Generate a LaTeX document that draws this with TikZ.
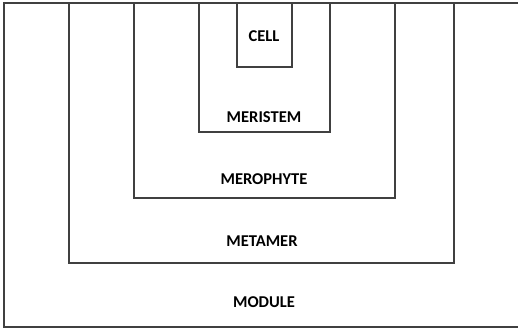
\documentclass[tikz,border=0pt]{standalone}
\usepackage{fontspec}
\setmainfont{Carlito}
\usetikzlibrary{positioning}

\tikzset{
  frame/.style={draw=black!75, line width=0.9pt},
  lbl/.style={font=\bfseries\fontsize{9.4}{11}\selectfont, text=black}
}

\begin{document}
\begin{tikzpicture}[x=0.02cm, y=-0.02cm]
                \useasboundingbox (0,0) rectangle (518,331);
                \clip (0,0) rectangle (518,331);
                % Module
                \draw[frame] (4,3) rectangle (540,327);
                % Metamer
                \draw[frame] (69,3) -- (69,263) -- (454,263) -- (454,3);
                % Merophyte
                \draw[frame] (134,3) -- (134,198) -- (395,198) -- (395,3);
                % Meristem
                \draw[frame] (199,3) -- (199,132) -- (330,132) -- (330,3);
                % Cell
                \draw[frame] (237,3) -- (237,67) -- (292,67) -- (292,3);
                % Labels
                \node[lbl] (cell) at (264,36) {CELL};
                \node[lbl] (meristem) at (264,117) {MERISTEM};
                \node[lbl] (merophyte) at (264,179) {MEROPHYTE};
                \node[lbl] (metamer) at (262,241) {METAMER};
                \node[lbl] (module) at (264,302) {MODULE};
            \end{tikzpicture}
\end{document}
